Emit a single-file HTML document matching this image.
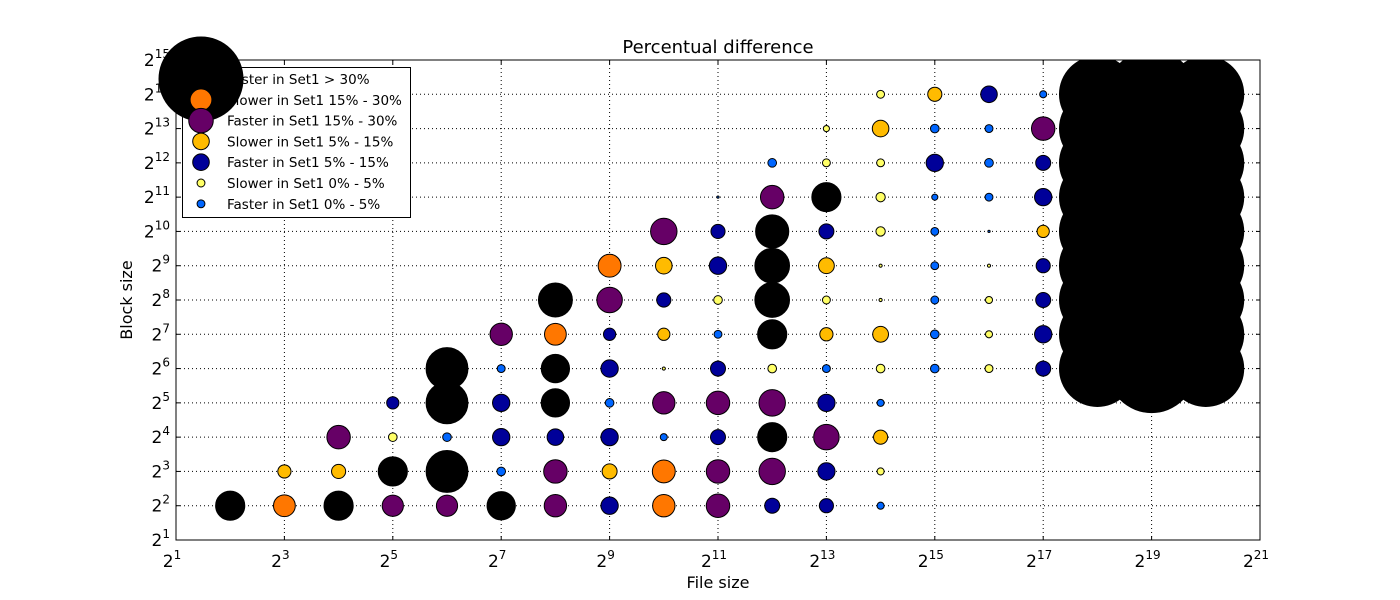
<!DOCTYPE html>
<html><head><meta charset="utf-8"><style>
body{margin:0;background:#fff;}
svg{display:block;font-family:"DejaVu Sans","Liberation Sans",sans-serif;}
</style></head><body>
<svg id="chart" width="1400" height="600" viewBox="0 0 1400 600" xmlns="http://www.w3.org/2000/svg">
<rect width="1400" height="600" fill="#fff"/>
<defs><clipPath id="plotclip"><rect x="176" y="60" width="1084" height="480"/></clipPath></defs>
<g id="grid"></g>
<g id="marks" clip-path="url(#plotclip)"></g>
<rect x="176" y="60" width="1084" height="480" fill="none" stroke="#000" stroke-width="1"/>
<g id="ticks"></g>
<text x="718" y="53" text-anchor="middle" font-size="18">Percentual difference</text>
<text x="718" y="588" text-anchor="middle" font-size="16">File size</text>
<text x="132" y="300" text-anchor="middle" font-size="16" transform="rotate(-90 132 300)">Block size</text>
<g id="legend"></g>
</svg>
<script>
// data: x exponent, y exponent, signed difference (negative = faster in Set1, positive = slower)
const xExp = [2,3,4,5,6,7,8,9,10,11,12,13,14,
 3,4,5,6,7,8,9,10,11,12,13,14,
 4,5,6,7,8,9,10,11,12,13,14,
 5,6,7,8,9,10,11,12,13,14,
 6,7,8,9,10,11,12,13,14,15,16,17,
 7,8,9,10,11,12,13,14,15,16,17,
 8,9,10,11,12,13,14,15,16,17,
 9,10,11,12,13,14,15,16,17,
 10,11,12,13,14,15,16,17,
 11,12,13,14,15,16,17,
 12,13,14,15,16,17,
 13,14,15,16,17,
 14,15,16,17,
 18,18,18,18,18,18,18,18,18,
 19,19,19,19,19,19,19,19,19,
 20,20,20,20,20,20,20,20,20];
const yExp = [2,2,2,2,2,2,2,2,2,2,2,2,2,
 3,3,3,3,3,3,3,3,3,3,3,3,
 4,4,4,4,4,4,4,4,4,4,4,
 5,5,5,5,5,5,5,5,5,5,
 6,6,6,6,6,6,6,6,6,6,6,6,
 7,7,7,7,7,7,7,7,7,7,7,
 8,8,8,8,8,8,8,8,8,8,
 9,9,9,9,9,9,9,9,9,
 10,10,10,10,10,10,10,10,
 11,11,11,11,11,11,11,
 12,12,12,12,12,12,
 13,13,13,13,13,
 14,14,14,14,
 6,7,8,9,10,11,12,13,14,
 6,7,8,9,10,11,12,13,14,
 6,7,8,9,10,11,12,13,14];
const diff = [-34,19,-34,-18,-18,-32,-20,-12,20,-22,-9,-8,-2,
 7,8,-34,-70,-3,-22,9,21,-22,-28,-12,2,
 -22,3,-3,-12,-11,-12,-2,-9,-34,-26,8,
 -6,-70,-12,-32,-3,-20,-22,-28,-12,-2,
 -70,-2.5,-32,-12,0.4,-9,3,-2.5,3,-3,2.5,-9,
 -20,19,-6,6,-2.5,-34,7,10,-3,2,-12,
 -46,-26,-8,3,-48,2.5,0.4,-2.5,2,-9,
 21,11,-12,-48,10,0.4,-2.5,0.4,-8,
 -28,-8,-44,-9,3.5,-2.5,-0.2,6,
 -0.2,-22,-34,3.5,-1.5,-2.5,-12,
 -3,2.5,2.5,-12,-3,-9,
 1.5,11,-3,-2.5,-22,
 2.5,8,-11,-2,
 -230,-230,-230,-230,-230,-230,-230,-230,-230,
 -310,-310,-310,-310,-310,-310,-310,-310,-310,
 -230,-230,-230,-230,-230,-230,-230,-230,-230];
const xTickExp = [1,3,5,7,9,11,13,15,17,19,21];
const yTickExp = [1,2,3,4,5,6,7,8,9,10,11,12,13,14,15];
const legendLabels = ["Faster in Set1  > 30%","Slower in Set1 15% - 30%","Faster in Set1 15% - 30%","Slower in Set1 5% - 15%","Faster in Set1 5% - 15%","Slower in Set1 0% - 5%","Faster in Set1 0% - 5%"];
const legendDiff = [-300,19,-24,11,-11,2.5,-2.5];

const NS="http://www.w3.org/2000/svg";
const X0=176,X1=1260,Y0=540,Y1=60;
const xs=e=>X0+(e-1)*(X1-X0)/20;
const ys=e=>Y0-(e-1)*(Y0-Y1)/14;
const rad=v=>2.5*Math.sqrt(Math.abs(v));
function color(v){const a=Math.abs(v);
 if(v<0){return a>30?"#000000":a>15?"#660066":a>5?"#000099":"#0066ff";}
 return a>30?"#000000":a>15?"#ff7700":a>5?"#ffbb00":"#ffff66";}
function mk(tag,attrs,parent){const el=document.createElementNS(NS,tag);for(const k in attrs)el.setAttribute(k,attrs[k]);parent.appendChild(el);return el;}

const grid=document.getElementById('grid'),ticks=document.getElementById('ticks'),marks=document.getElementById('marks'),legend=document.getElementById('legend');
xTickExp.forEach(e=>{const x=xs(e);
 const g=mk('line',{x1:x,x2:x,y1:Y1,y2:Y0,stroke:'#000','stroke-width':1,'stroke-dasharray':'1,3'},grid);
 
 
 mk('line',{x1:x,x2:x,y1:Y0,y2:Y0-4,stroke:'#000'},ticks);
 mk('line',{x1:x,x2:x,y1:Y1,y2:Y1+4,stroke:'#000'},ticks);
 const t=mk('text',{x:x-4,y:567,'text-anchor':'middle','font-size':17},ticks);
 
 
 t.innerHTML='2<tspan dy="-8" font-size="12">'+e+'</tspan>';
});
yTickExp.forEach(e=>{const y=ys(e);
 const g=mk('line',{x1:X0,x2:X1,y1:y,y2:y,stroke:'#000','stroke-width':1,'stroke-dasharray':'1,3'},grid);
 
 
 mk('line',{x1:X0,x2:X0+4,y1:y,y2:y,stroke:'#000'},ticks);
 mk('line',{x1:X1,x2:X1-4,y1:y,y2:y,stroke:'#000'},ticks);
 const t=mk('text',{x:170,y:y+6,'text-anchor':'end','font-size':17},ticks);
 
 
 t.innerHTML='2<tspan dy="-8" font-size="12">'+e+'</tspan>';
});
for(let i=0;i<xExp.length;i++){
 const c=mk('circle',{cx:xs(xExp[i]),cy:ys(yExp[i]),r:rad(diff[i]),fill:color(diff[i]),stroke:'#000','stroke-width':1},marks);
 
 
}
mk('rect',{x:182.5,y:67.5,width:228,height:150,fill:'#fff',stroke:'#000'},legend);
legendLabels.forEach((l,i)=>{const y=79+i*20.8;
 const t=mk('text',{x:227,y:y+5,'font-size':13.5},legend);
 
 
 t.textContent=l;
});
legendLabels.forEach((l,i)=>{const y=79+i*20.8;
 const r=i===0?42:rad(legendDiff[i]);
 const c=mk('circle',{cx:201,cy:y,r:r,fill:color(legendDiff[i]),stroke:'#000'},legend);
 
 
});
</script>
</body></html>
